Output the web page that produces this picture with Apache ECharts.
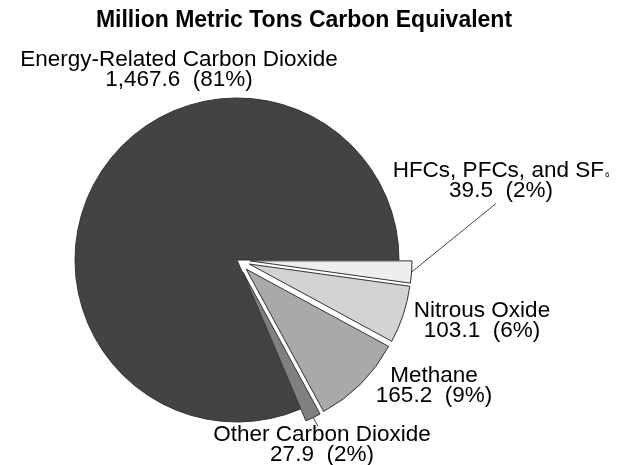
<!DOCTYPE html>
<html>
<head>
<meta charset="utf-8">
<script src="https://cdn.jsdelivr.net/npm/echarts@6/dist/echarts.min.js"></script>
<style>
  html, body { margin: 0; padding: 0; background: #ffffff; }
  #chart { width: 625px; height: 465px; }
</style>
</head>
<body>
<div id="chart"></div>
<script>
// ---- data ----
var titleText = 'Million Metric Tons Carbon Equivalent';
var categories = ['HFCs, PFCs, and SF6', 'Nitrous Oxide', 'Methane', 'Other Carbon Dioxide', 'Energy-Related Carbon Dioxide'];
var labelNames = ['HFCs, PFCs, and SF{sub|6}', 'Nitrous Oxide', 'Methane', 'Other Carbon Dioxide', 'Energy-Related Carbon Dioxide'];
var values = [39.5, 103.1, 165.2, 27.9, 1467.6];
var exploded = [true, true, true, true, false];
var showLeader = [true, false, false, true, false];

// ---- styles / layout ----
var colors = ['#eeeeee', '#d3d3d3', '#a9a9a9', '#808080', '#434343'];
var labelCenters = [[501, 181], [482, 321], [434, 386], [322, 445], [179, 70]];
var pieCenter = [237, 260];
var pieRadius = 162;
var explodeOffset = 13;
var FONT = 'Liberation Sans, Arial, sans-serif';

function fmtNum(v) {
  var parts = v.toFixed(1).split('.');
  parts[0] = parts[0].replace(/\B(?=(\d{3})+(?!\d))/g, ',');
  return parts.join('.');
}

var total = values.reduce(function (a, b) { return a + b; }, 0);

// each slice gets its own pie series (same angles), so exploded slices can be shifted
var series = categories.map(function (cat, k) {
  var before = 0;
  for (var j = 0; j < k; j++) before += values[j];
  var mid = 2 * Math.PI * (before + values[k] / 2) / total;
  var off = exploded[k] ? explodeOffset : 0;
  var center = [pieCenter[0] + off * Math.cos(mid), pieCenter[1] + off * Math.sin(mid)];
  return {
    type: 'pie',
    center: center,
    radius: [0, pieRadius],
    startAngle: 0,
    clockwise: true,
    avoidLabelOverlap: false,
    emphasis: { disabled: true },
    silent: true,
    z: k === categories.length - 1 ? 1 : 2,
    label: {
      show: true,
      position: 'outside',
      fontFamily: FONT,
      fontSize: 22.5,
      lineHeight: 20,
      color: '#000000',
      align: 'center',
      formatter: function (p) {
        return labelNames[p.dataIndex] + '\n' + fmtNum(p.value) + '  (' + Math.round(p.percent) + '%)';
      },
      rich: {
        sub: {
          fontFamily: FONT,
          fontSize: 8,
          lineHeight: 20,
          verticalAlign: 'bottom',
          padding: [0, 0, 2, 1],
          color: '#000000'
        }
      }
    },
    labelLine: {
      show: true,
      length: 10,
      length2: 10,
      smooth: false,
      lineStyle: { color: '#444444', width: 1 }
    },
    labelLayout: function (params) {
      var i = params.dataIndex;
      var c = labelCenters[i];
      var out = { x: c[0], y: c[1], align: 'center', verticalAlign: 'middle' };
      if (showLeader[i] && params.labelLinePoints) {
        var start = params.labelLinePoints[0];
        var h = params.labelRect.height;
        var end;
        if (start[1] < c[1] - h / 2) {
          end = [start[0] + 5, c[1] - h / 2 + 3];
        } else {
          end = [c[0] - 5, c[1] + h / 2 + 1];
        }
        out.labelLinePoints = [start, end];
      }
      return out;
    },
    data: categories.map(function (c, i) {
      var visible = (i === k);
      return {
        name: c,
        value: values[i],
        itemStyle: visible
          ? { color: colors[i], borderColor: '#333333', borderWidth: 1 }
          : { color: 'rgba(0,0,0,0)', borderWidth: 0 },
        label: { show: visible },
        labelLine: { show: visible && showLeader[i] }
      };
    })
  };
});

var chart = echarts.init(document.getElementById('chart'), null, { renderer: 'canvas' });
chart.setOption({
  backgroundColor: '#ffffff',
  animation: false,
  title: {
    text: titleText,
    left: 304,
    top: 9,
    padding: 0,
    textAlign: 'center',
    textStyle: {
      fontFamily: FONT,
      fontWeight: 'bold',
      fontSize: 23,
      color: '#000000'
    }
  },
  series: series
});
</script>
</body>
</html>
